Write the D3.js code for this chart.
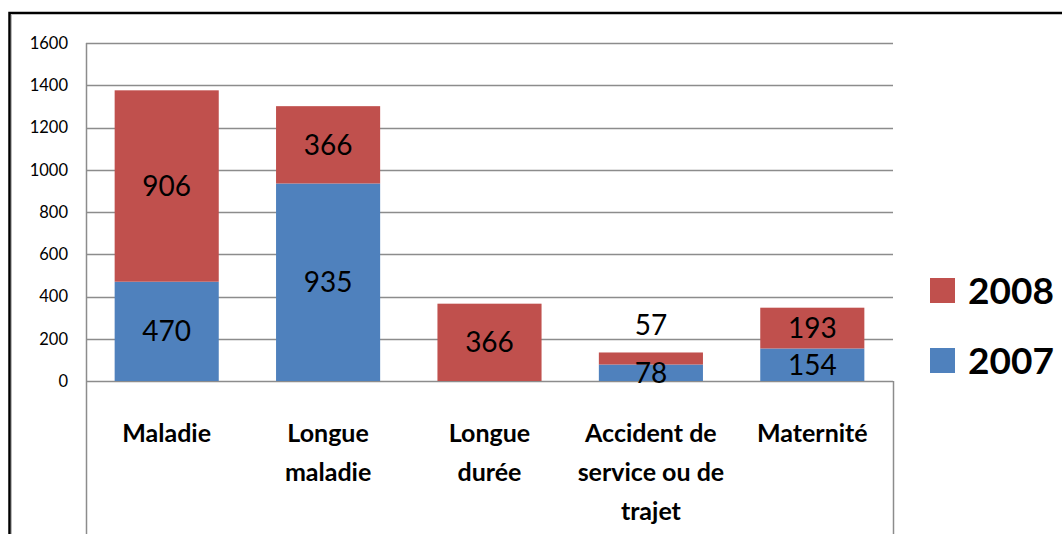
<!DOCTYPE html>
<html>
<head>
<meta charset="utf-8">
<script src="https://cdn.jsdelivr.net/npm/d3@7"></script>
<style>
  body { margin: 0; background: #fff; }
  text { font-family: Lato, "Open Sans", sans-serif; }
</style>
</head>
<body>
<div id="chart"></div>
<script>
// donnees
const categories = ["Maladie", "Longue maladie", "Longue durée", "Accident de service ou de trajet", "Maternité"];
const lignesCategories = [["Maladie"], ["Longue", "maladie"], ["Longue", "durée"], ["Accident de", "service ou de", "trajet"], ["Maternité"]];
const valeurs2007 = [470, 935, 0, 78, 154];
const valeurs2008 = [906, 366, 366, 57, 193];
const series = ["2007", "2008"];
const couleurs = ["#4f81bd", "#c0504d"];
const ticksY = [0, 200, 400, 600, 800, 1000, 1200, 1400, 1600];

const W = 1062, H = 534;
const svg = d3.select("#chart").append("svg")
  .attr("width", W)
  .attr("height", H);

const x = d3.scaleBand().domain(categories).range([86, 893]).paddingInner(0.355).paddingOuter(0.1775);
const y = d3.scaleLinear().domain([0, 1600]).range([381, 43]);

// cadre
svg.append("path")
  .attr("d", `M9.5,${H} V13 H${W}`)
  .attr("fill", "none")
  .attr("stroke", "#000")
  .attr("stroke-width", 2.5);
svg.append("line")
  .attr("x1", 11.5).attr("x2", 11.5).attr("y1", 15).attr("y2", H)
  .attr("stroke", "#bbb").attr("stroke-width", 1);

// grille
svg.append("g")
  .selectAll("line")
  .data(ticksY)
  .join("line")
  .attr("x1", 86).attr("x2", 893)
  .attr("y1", d => Math.round(y(d)) + 0.5)
  .attr("y2", d => Math.round(y(d)) + 0.5)
  .attr("stroke", "#8c8c8c")
  .attr("stroke-width", 1.5);

svg.append("line")
  .attr("x1", 86.5).attr("x2", 86.5).attr("y1", 43).attr("y2", H)
  .attr("stroke", "#8c8c8c").attr("stroke-width", 1.5);
svg.append("line")
  .attr("x1", 893.5).attr("x2", 893.5).attr("y1", y(0)).attr("y2", H)
  .attr("stroke", "#8c8c8c").attr("stroke-width", 1.5);

// axe y
const axeY = svg.append("g")
  .attr("transform", "translate(86,0)")
  .call(d3.axisLeft(y).tickValues(ticksY).tickFormat(d3.format("d")).tickSize(0).tickPadding(18));
axeY.select(".domain").remove();
axeY.selectAll("text")
  .attr("font-family", "Lato, sans-serif")
  .attr("font-size", 16.5)
  .attr("fill", "#000");

// barres empilees
const table = categories.map((c, i) => ({ categorie: c, "2007": valeurs2007[i], "2008": valeurs2008[i] }));
const pile = d3.stack().keys(series)(table);

const groupes = svg.append("g")
  .selectAll("g")
  .data(pile)
  .join("g")
  .attr("fill", (d, i) => couleurs[i]);

groupes.selectAll("rect")
  .data(d => d)
  .join("rect")
  .attr("x", d => x(d.data.categorie))
  .attr("width", x.bandwidth())
  .attr("y", d => y(d[1]))
  .attr("height", d => y(d[0]) - y(d[1]));

// etiquettes de valeurs
const etiquettes = [];
pile.forEach((s, k) => s.forEach(d => {
  const v = d[1] - d[0];
  if (v <= 0) return;
  const h = y(d[0]) - y(d[1]);
  let cy = (y(d[0]) + y(d[1])) / 2;
  // segment trop petit en haut de pile : etiquette au-dessus
  if (k === pile.length - 1 && h < 15 && d[0] > 0) cy = y(d[1]) - 28;
  etiquettes.push({ x: x(d.data.categorie) + x.bandwidth() / 2, y: cy, v: v });
}));

svg.append("g")
  .selectAll("text")
  .data(etiquettes)
  .join("text")
  .attr("x", d => d.x)
  .attr("y", d => d.y)
  .attr("dy", "0.36em")
  .attr("text-anchor", "middle")
  .attr("font-size", 28)
  .attr("fill", "#000")
  .text(d => d.v);

// etiquettes des categories
svg.append("g")
  .selectAll("text")
  .data(categories)
  .join("text")
  .attr("x", d => x(d) + x.bandwidth() / 2)
  .attr("y", 442)
  .attr("text-anchor", "middle")
  .attr("font-size", 25)
  .attr("font-weight", "bold")
  .attr("fill", "#000")
  .selectAll("tspan")
  .data((d, i) => lignesCategories[i])
  .join("tspan")
  .attr("x", function() { return this.parentNode.getAttribute("x"); })
  .attr("dy", (d, i) => i === 0 ? 0 : 39)
  .text(d => d);

// legende
const legende = svg.append("g")
  .selectAll("g")
  .data(series.slice().reverse())
  .join("g")
  .attr("transform", (d, i) => `translate(930,${278 + i * 70})`);

legende.append("rect")
  .attr("width", 25)
  .attr("height", 25)
  .attr("fill", d => couleurs[series.indexOf(d)]);

legende.append("text")
  .attr("x", 38)
  .attr("y", 12.5)
  .attr("dy", "0.36em")
  .attr("font-size", 37)
  .attr("font-weight", "bold")
  .attr("fill", "#000")
  .text(d => d);
</script>
</body>
</html>
